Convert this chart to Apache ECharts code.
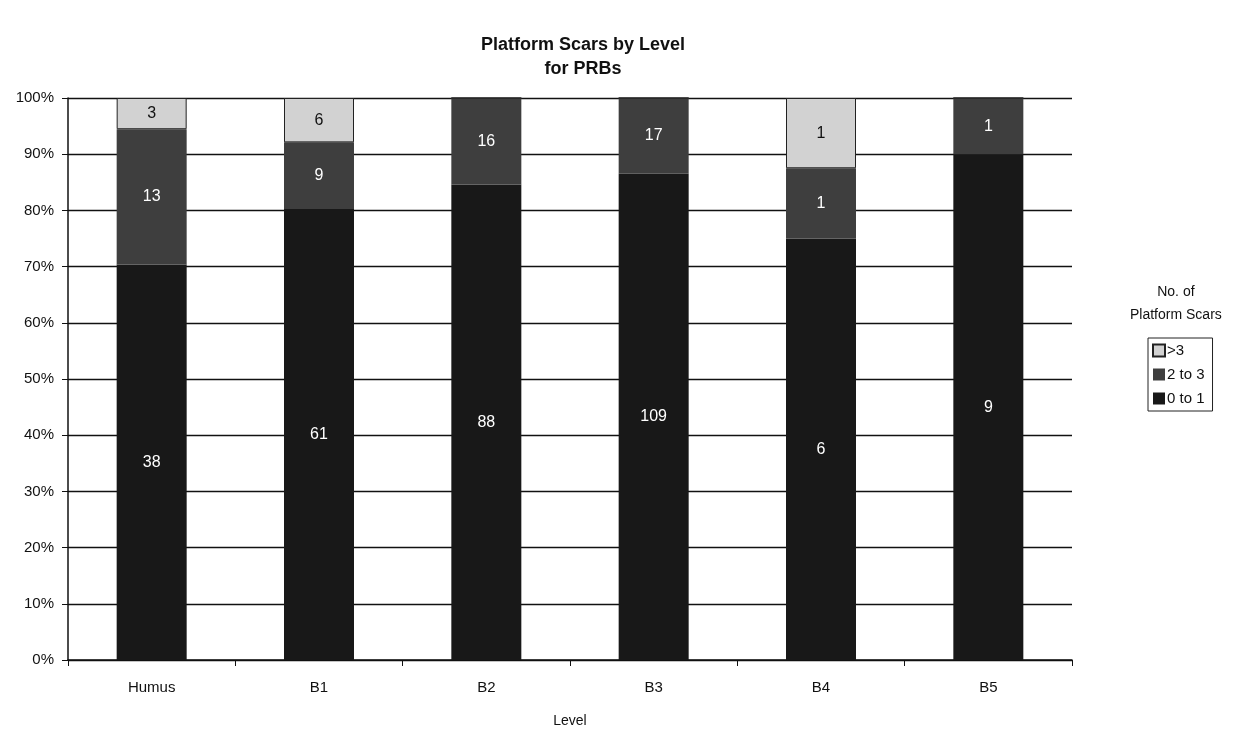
<!DOCTYPE html>
<html>
<head>
<meta charset="utf-8">
<script src="https://cdn.jsdelivr.net/npm/echarts@6/dist/echarts.min.js"></script>
<style>
  html, body { margin: 0; padding: 0; background: #fff; }
  #main { width: 1241px; height: 742px; }
</style>
</head>
<body>
<div id="main"></div>
<script>
var levels = ['Humus', 'B1', 'B2', 'B3', 'B4', 'B5'];
// counts of PRBs per number of platform scars
var scars0to1 = [38, 61, 88, 109, 6, 9];
var scars2to3 = [13, 9, 16, 17, 1, 1];
var scarsOver3 = [3, 6, 0, 0, 1, 0];
var yTicks = [0, 10, 20, 30, 40, 50, 60, 70, 80, 90, 100];

var totals = levels.map(function (l, i) {
    return scars0to1[i] + scars2to3[i] + scarsOver3[i];
});

function toPct(arr) {
    return arr.map(function (v, i) {
        return { value: v / totals[i] * 100, count: v };
    });
}

var myChart = echarts.init(document.getElementById('main'), null, { renderer: 'canvas' });

var font = 'Arial, "Liberation Sans", sans-serif';

function labelOpt(color) {
    return {
        show: true,
        position: 'inside',
        color: color,
        fontFamily: font,
        fontSize: 16,
        formatter: function (p) {
            return p.data.count ? String(p.data.count) : '';
        }
    };
}

var option = {
    animation: false,
    backgroundColor: '#fff',
    title: {
        text: 'Platform Scars by Level\nfor PRBs',
        left: 578,
        textAlign: 'center',
        top: 28,
        textStyle: {
            fontFamily: font,
            fontSize: 18,
            fontWeight: 'bold',
            color: '#111',
            lineHeight: 24
        }
    },
    legend: {
        orient: 'vertical',
        left: 1148,
        top: 338,
        icon: 'rect',
        itemWidth: 12,
        itemHeight: 12,
        itemGap: 9,
        padding: [5, 8, 5, 4],
        borderColor: '#222',
        borderWidth: 1,
        textStyle: { fontFamily: font, fontSize: 15, color: '#111', padding: [0, 0, 0, -3] },
        data: ['>3', '2 to 3', '0 to 1']
    },
    graphic: [{
        type: 'text',
        left: 1130,
        top: 281,
        style: {
            text: 'No. of\nPlatform Scars',
            textAlign: 'center',
            x: 52,
            font: '14px Arial, "Liberation Sans", sans-serif',
            lineHeight: 23,
            fill: '#111'
        }
    }],
    grid: {
        left: 68,
        right: 169,
        top: 98,
        bottom: 82
    },
    xAxis: {
        type: 'category',
        data: levels,
        name: 'Level',
        nameLocation: 'middle',
        nameGap: 54,
        nameTextStyle: { fontFamily: font, fontSize: 14, color: '#111' },
        axisLine: { lineStyle: { color: '#111', width: 1.5 } },
        axisTick: { show: true, length: 6, lineStyle: { color: '#111' } },
        axisLabel: { fontFamily: font, fontSize: 15, color: '#111', margin: 20 }
    },
    yAxis: {
        type: 'value',
        min: 0,
        max: 100,
        interval: 10,
        axisLine: { show: true, lineStyle: { color: '#111', width: 1.5 } },
        axisTick: { show: true, length: 6, lineStyle: { color: '#111' } },
        axisLabel: {
            fontFamily: font,
            fontSize: 15,
            color: '#111',
            margin: 14,
            formatter: function (v) { return yTicks.indexOf(v) >= 0 ? v + '%' : ''; }
        },
        splitLine: { show: true, lineStyle: { color: '#111', width: 1.3 } }
    },
    series: [
        {
            name: '0 to 1',
            type: 'bar',
            stack: 'total',
            barWidth: 70,
            itemStyle: { color: '#181818' },
            label: labelOpt('#fff'),
            data: toPct(scars0to1)
        },
        {
            name: '2 to 3',
            type: 'bar',
            stack: 'total',
            itemStyle: { color: '#3e3e3e' },
            label: labelOpt('#fff'),
            data: toPct(scars2to3)
        },
        {
            name: '>3',
            type: 'bar',
            stack: 'total',
            itemStyle: { color: '#d2d2d2', borderColor: '#222', borderWidth: 1 },
            label: labelOpt('#111'),
            data: toPct(scarsOver3)
        }
    ]
};

myChart.setOption(option);
window.addEventListener('resize', myChart.resize);
</script>
</body>
</html>
